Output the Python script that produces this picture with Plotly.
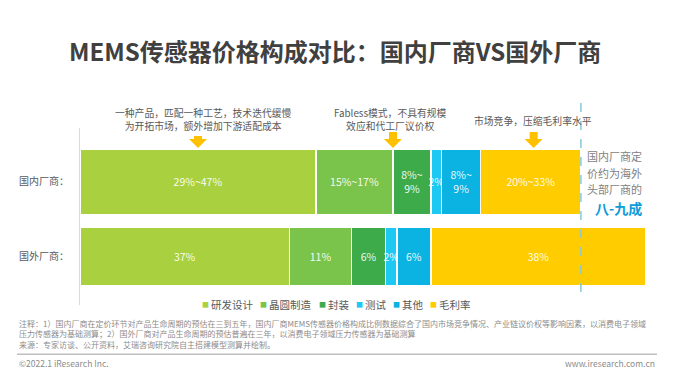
import plotly.graph_objects as go

# ---------------- data ----------------
categories = ["国内厂商：", "国外厂商："]
components = ["研发设计", "晶圆制造", "封装", "测试", "其他", "毛利率"]
domestic_values = [41.7, 13.6, 6.7, 1.9, 6.9, 17.7]   # share of the foreign price (domestic ≈ 八-九成)
foreign_values = [37, 11, 6, 2, 6, 38]
domestic_labels = ["29%~47%", "15%~17%", "8%~<br>9%", "2%", "8%~<br>9%", "20%~33%"]
foreign_labels = ["37%", "11%", "6%", "2%", "6%", "38%"]
colors = ["#A9D13F", "#7AC44C", "#3DAB4A", "#1DC8F2", "#0BB3E3", "#FFCC00"]

title = "MEMS传感器价格构成对比：国内厂商VS国外厂商"
callouts = [
    "一种产品，匹配一种工艺，技术迭代缓慢<br>为开拓市场，额外增加下游适配成本",
    "Fabless模式，不具有规模<br>效应和代工厂议价权",
    "市场竞争，压缩毛利率水平",
]
side_lines = ["国内厂商定", "价约为海外", "头部厂商的"]
side_emph = "八-九成"
notes = [
    "注释：1）国内厂商在定价环节对产品生命周期的预估在三到五年，国内厂商MEMS传感器价格构成比例数据综合了国内市场竞争情况、产业链议价权等影响因素，以消费电子领域",
    "压力传感器为基础测算；2）国外厂商对产品生命周期的预估普遍在三年，以消费电子领域压力传感器为基础测算",
    "来源：专家访谈、公开资料，艾瑞咨询研究院自主搭建模型测算并绘制。",
]
footer_left = "©2022.1 iResearch Inc."
footer_right = "www.iresearch.com.cn"

# ---------------- layout helpers ----------------
FONT = "Noto Sans CJK SC, Noto Sans, sans-serif"
OFF = 8                      # page body margin offset
FIG_W, FIG_H = 680 - OFF, 389 - OFF
L, T, W, H = 80 - OFF, 128 - OFF, 566, 177   # plot area inside figure
XMAX = 100.0


def PX(p):  # reference-screen pixel x -> paper
    return (p - OFF - L) / W


def PY(p):  # reference-screen pixel y -> paper
    return (T + H - (p - OFF)) / H


def xdata_to_paper(v):
    return v / XMAX


fig = go.Figure()

for i, comp in enumerate(components):
    fig.add_trace(go.Bar(
        orientation="h",
        y=categories,
        x=[domestic_values[i], foreign_values[i]],
        width=[0.866, 0.772],
        name=comp,
        marker=dict(color=colors[i], line=dict(color="white", width=1.2)),
        text=[domestic_labels[i], foreign_labels[i]],
        textposition="inside",
        insidetextanchor="middle",
        textangle=0,
        constraintext="none",
        textfont=dict(family=FONT, size=10.5, color="rgba(255,255,255,0.95)"),
        showlegend=False,
        hoverinfo="skip",
    ))

annotations = []
shapes = []

# title
annotations.append(dict(text="<b>" + title + "</b>", xref="paper", yref="paper",
                        x=PX(335), y=PY(50), xanchor="center", yanchor="middle",
                        showarrow=False, font=dict(family=FONT, size=24, color="#404040")))

# callout positions derived from data
cum = [sum(domestic_values[:k]) for k in range(len(domestic_values) + 1)]
arrow_x = [
    (cum[0] + cum[1]) / 2,      # centre of 研发设计
    cum[2],                     # boundary 晶圆制造 / 封装
    (cum[5] + cum[6]) / 2 + 0.5,  # centre of 毛利率
]
arrow_top = [136, 132, 132]
text_cx = [203, 390, 533]
text_cy = [119.5, 119.5, 121]
for k, txt in enumerate(callouts):
    annotations.append(dict(text=txt, xref="paper", yref="paper", x=PX(text_cx[k]), y=PY(text_cy[k]),
                            xanchor="center", yanchor="middle", showarrow=False,
                            font=dict(family=FONT, size=9.8, color="#595959")))
    xc = xdata_to_paper(arrow_x[k])
    hw = 9 / W
    sw = 4 / W
    yt = PY(arrow_top[k])
    yb = PY(139)
    ytip = PY(148)
    path = (f"M {xc - sw},{yt} L {xc + sw},{yt} L {xc + sw},{yb} L {xc + hw},{yb} "
            f"L {xc},{ytip} L {xc - hw},{yb} L {xc - sw},{yb} Z")
    shapes.append(dict(type="path", xref="paper", yref="paper", path=path,
                       fillcolor="#FFC000", line=dict(width=0), layer="above"))

# dashed line at end of domestic bar
dx = xdata_to_paper(sum(domestic_values))
shapes.append(dict(type="line", xref="paper", yref="paper", x0=dx, x1=dx, y0=PY(103), y1=PY(292),
                   line=dict(color="#86CADC", width=1.5, dash="dash"), layer="above"))

# side text
for line, yy in zip(side_lines, [156, 172.7, 189.3]):
    annotations.append(dict(text=line, xref="paper", yref="paper", x=PX(644), y=PY(yy),
                            xanchor="right", yanchor="middle", showarrow=False,
                            font=dict(family=FONT, size=11, color="#7F7F7F")))
annotations.append(dict(text="<b>" + side_emph + "</b>", xref="paper", yref="paper", x=PX(644), y=PY(207.5),
                        xanchor="right", yanchor="middle", showarrow=False,
                        font=dict(family=FONT, size=14, color="#0F9BD7")))

# legend (custom)
legend_sq_x = [205, 263, 322, 359, 396, 433]
for comp, col, sx in zip(components, colors, legend_sq_x):
    annotations.append(dict(text="■", xref="paper", yref="paper", x=PX(sx), y=PY(304),
                            xanchor="center", yanchor="middle", showarrow=False,
                            font=dict(family=FONT, size=7, color=col)))
    annotations.append(dict(text=comp, xref="paper", yref="paper", x=PX(sx + 4), y=PY(304),
                            xanchor="left", yanchor="middle", showarrow=False,
                            font=dict(family=FONT, size=10.5, color="#595959")))

# notes
annotations.append(dict(text="<br>".join(notes), xref="paper", yref="paper", x=PX(17), y=PY(334.3),
                        xanchor="left", yanchor="middle", align="left", showarrow=False,
                        font=dict(family=FONT, size=8, color="#8C8C8C")))

# footer rule and texts
shapes.append(dict(type="line", xref="paper", yref="paper", x0=PX(17), x1=PX(657), y0=PY(354.3), y1=PY(354.3),
                   line=dict(color="#BFBFBF", width=1.5)))
annotations.append(dict(text=footer_left, xref="paper", yref="paper", x=PX(17), y=PY(362.7),
                        xanchor="left", yanchor="middle", showarrow=False,
                        font=dict(family=FONT, size=8.5, color="#8C8C8C")))
annotations.append(dict(text=footer_right, xref="paper", yref="paper", x=PX(657), y=PY(362.7),
                        xanchor="right", yanchor="middle", showarrow=False,
                        font=dict(family=FONT, size=8.5, color="#8C8C8C")))

fig.update_layout(
    width=FIG_W, height=FIG_H,
    margin=dict(l=L, r=FIG_W - L - W, t=T, b=FIG_H - T - H, pad=0),
    barmode="stack",
    paper_bgcolor="white", plot_bgcolor="white",
    showlegend=False,
    annotations=annotations,
    shapes=shapes,
    xaxis=dict(range=[0, XMAX], showgrid=False, zeroline=False, showticklabels=False,
               showline=False, fixedrange=True),
    yaxis=dict(type="category", categoryorder="array", categoryarray=categories,
               range=[1.643, -0.714], showgrid=False, zeroline=False,
               showline=True, linecolor="#D9D9D9", linewidth=1, ticks="",
               ticklabelstandoff=8,
               tickfont=dict(family=FONT, size=10, color="#595959")),
    font=dict(family=FONT),
)

fig.write_html("out.html")
